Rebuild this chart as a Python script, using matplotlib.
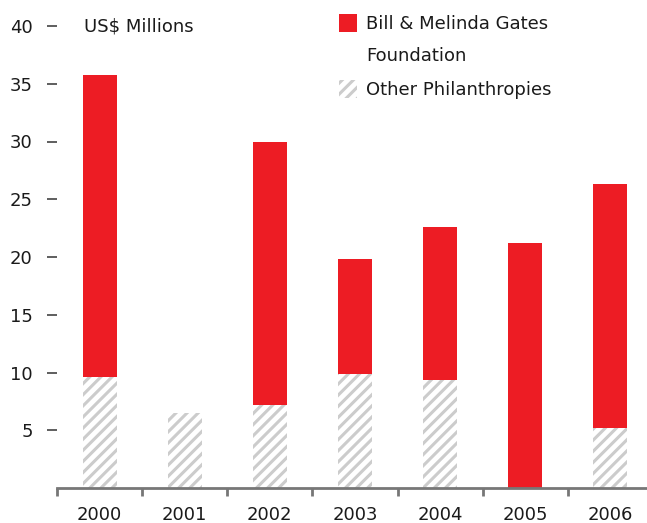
import numpy as np
import matplotlib.pyplot as plt
from matplotlib.patches import Rectangle

years = ['2000', '2001', '2002', '2003', '2004', '2005', '2006']
other = [9.6, 6.5, 7.2, 9.9, 9.35, 0.0, 5.2]
gates = [26.2, 0.0, 22.8, 9.9, 13.25, 21.2, 21.1]

RED = '#ED1C24'
HATCH_GRAY = '#cccccc'
AXIS_GRAY = '#777777'
TEXT = '#1a1a1a'

plt.rcParams['font.family'] = ['DejaVu Sans']
plt.rcParams['hatch.linewidth'] = 2.2
plt.rcParams['hatch.color'] = HATCH_GRAY

fig = plt.figure(figsize=(6.47, 5.23), dpi=100)
ax = fig.add_axes([57/647, 1 - 488/523, 1 - 57/647, (488 - 26)/523])

x = np.arange(len(years))
w = 0.4
ax.bar(x, other, width=w, color='white', edgecolor=HATCH_GRAY,
       hatch='///', linewidth=0)
ax.bar(x, gates, width=w, bottom=other, color=RED, linewidth=0)

ax.set_xlim(-0.5, 6.43)
ax.set_ylim(0, 40)

for s in ['top', 'right', 'left']:
    ax.spines[s].set_visible(False)
ax.spines['bottom'].set_color(AXIS_GRAY)
ax.spines['bottom'].set_linewidth(2)

ax.set_yticks(range(5, 41, 5))
ax.tick_params(axis='y', length=7.5, width=1.1, color='#333333', pad=10,
               labelsize=13, labelcolor=TEXT)
ax.set_xticks(x)
ax.set_xticklabels(years)
ax.set_xticks(np.arange(-0.5, 6, 1), minor=True)
ax.tick_params(axis='x', which='major', length=0, pad=13,
               labelsize=13, labelcolor=TEXT)
ax.tick_params(axis='x', which='minor', length=6, width=2, color=AXIS_GRAY)

fig.text(84/647, 1 - 26/523, 'US$ Millions', fontsize=13, color=TEXT,
         va='center', ha='left')

# legend drawn by hand
fig.patches.append(Rectangle((339/647, 1 - 32/523), 18/647, 18/523,
                             transform=fig.transFigure, facecolor=RED,
                             linewidth=0))
fig.patches.append(Rectangle((339/647, 1 - 98/523), 18/647, 18/523,
                             transform=fig.transFigure, facecolor='white',
                             edgecolor=HATCH_GRAY, hatch='///', linewidth=0))
fig.text(366/647, 1 - 24/523, 'Bill & Melinda Gates', fontsize=13,
         color=TEXT, va='center', ha='left')
fig.text(366/647, 1 - 56/523, 'Foundation', fontsize=13,
         color=TEXT, va='center', ha='left')
fig.text(366/647, 1 - 90/523, 'Other Philanthropies', fontsize=13,
         color=TEXT, va='center', ha='left')

fig.savefig('out.png', dpi=100)
